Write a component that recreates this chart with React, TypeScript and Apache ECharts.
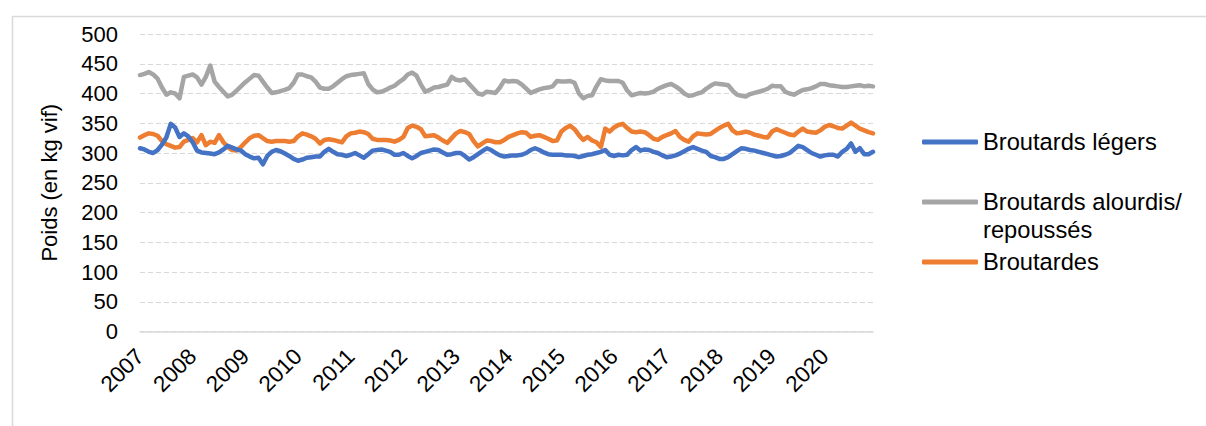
import React, { useEffect, useRef } from "react";
import * as echarts from "echarts";

const years = ["2007","2008","2009","2010","2011","2012","2013","2014","2015","2016","2017","2018","2019","2020"];
const months = ["01","02","03","04","05","06","07","08","09","10","11","12"];
const yTicks = [0, 50, 100, 150, 200, 250, 300, 350, 400, 450, 500];

const legers = [
  308, 306, 302, 300, 305, 314, 326, 349, 343, 327, 333, 328,
  318, 304, 301, 300, 299, 298, 301, 306, 312, 309, 306, 304,
  298, 294, 291, 292, 281, 295, 302, 305, 303, 299, 295, 290,
  287, 289, 292, 293, 294, 294, 302, 307, 302, 298, 297, 295,
  297, 300, 296, 292, 298, 304, 305, 306, 304, 302, 297, 297,
  300, 295, 291, 295, 300, 302, 304, 306, 305, 301, 297, 298,
  300, 300, 295, 289, 293, 298, 303, 308, 305, 300, 296, 294,
  295, 296, 296, 297, 300, 305, 308, 305, 301, 298, 297, 297,
  297, 296, 296, 295, 293, 295, 297, 298, 300, 302, 305, 297,
  295, 297, 296, 297, 305, 310, 304, 306, 305, 302, 300, 296,
  293, 294, 296, 299, 303, 307, 310, 307, 304, 302, 295, 293,
  290, 290, 293, 298, 303, 308, 307, 305, 304, 302, 300, 298,
  296, 294, 295, 297, 300, 306, 312, 310, 305, 300, 297, 294,
  296, 297, 297, 294, 302, 307, 316, 302, 308, 298, 298, 302,
];

const alourdis = [
  431, 433, 436, 432, 425, 410, 398, 402, 400, 392, 428, 430,
  432, 427, 415, 428, 447, 420, 411, 403, 395, 398, 405, 412,
  419, 425, 431, 430, 420, 410, 401, 402, 404, 406, 409, 418,
  432, 432, 429, 427, 420, 410, 408, 408, 412, 418, 424, 429,
  431, 432, 433, 434, 416, 407, 402, 403, 406, 410, 413, 419,
  424, 432, 435, 430, 415, 403, 406, 410, 411, 413, 415, 428,
  423, 422, 424, 416, 408, 400, 398, 403, 402, 401, 410, 422,
  420, 421, 420, 415, 408, 401, 404, 407, 409, 410, 412, 421,
  420, 420, 421, 418, 400, 392, 396, 397, 412, 424, 422, 421,
  421, 421, 418, 405, 397, 399, 401, 400, 401, 403, 408, 411,
  414, 416, 412, 407, 400, 396, 397, 400, 402, 408, 413, 417,
  416, 415, 414, 405, 398, 396, 395, 399, 401, 403, 405, 408,
  413, 412, 412, 403, 400, 398, 402, 406, 407, 409, 412, 416,
  416, 414, 413, 412, 411, 411, 412, 413, 414, 412, 413, 412,
];

const broutardes = [
  326, 330, 333, 332, 329, 320, 315, 312, 309, 310, 319, 322,
  325, 318, 330, 313, 319, 317, 330, 318, 310, 305, 304, 310,
  318, 325, 329, 330, 325, 320, 319, 320, 320, 320, 319, 320,
  328, 333, 331, 328, 324, 316, 322, 323, 322, 320, 318, 328,
  333, 334, 336, 335, 332, 324, 322, 322, 322, 321, 319, 322,
  327, 342, 346, 344, 340, 328, 329, 330, 326, 321, 317, 325,
  333, 337, 335, 332, 320, 311, 316, 321, 320, 318, 318, 322,
  327, 330, 333, 335, 334, 327, 329, 330, 327, 324, 320, 321,
  336, 342, 346, 340, 330, 322, 327, 321, 318, 310, 341, 336,
  343, 347, 349, 342, 336, 335, 336, 335, 330, 324, 322, 327,
  330, 333, 337, 327, 322, 319, 328, 333, 332, 331, 332, 337,
  342, 346, 349, 338, 333, 334, 336, 334, 331, 329, 327, 326,
  336, 340, 337, 334, 331, 330, 336, 341, 336, 335, 334, 338,
  344, 347, 345, 342, 341, 346, 351, 346, 341, 338, 335, 333,
];

const seriesNames = ["Broutards légers", "Broutards alourdis/ repoussés", "Broutardes"];
const colors = ["#4472C4", "#A5A5A5", "#ED7D31"];

const categories: string[] = [];
years.forEach((y) => months.forEach((m) => categories.push(`${y}-${m}`)));

const FONT = "Liberation Sans, Arial, sans-serif";

export default function App() {
  const ref = useRef<HTMLDivElement>(null);
  useEffect(() => {
    if (!ref.current) return;
    const chart = echarts.init(ref.current, null, { renderer: "svg" });
    const legendBase = {
      orient: "vertical" as const,
      left: 922,
      padding: 0,
      itemWidth: 56,
      itemHeight: 5,
      icon: "roundRect",
      textStyle: { fontFamily: FONT, fontSize: 23.7, color: "#000", lineHeight: 28 },
      selectedMode: false,
    };
    chart.setOption({
      animation: false,
      backgroundColor: "#fff",
      color: colors,
      textStyle: { fontFamily: FONT },
      grid: { left: 140, right: 333, top: 34, bottom: 94.5, containLabel: false },
      legend: [
        { ...legendBase, top: 128, data: [seriesNames[0]] },
        {
          ...legendBase,
          top: 160,
          data: [seriesNames[1]],
          formatter: () => " \nBroutards alourdis/\nrepoussés",
        },
        { ...legendBase, top: 248, data: [seriesNames[2]] },
      ],
      xAxis: {
        type: "category",
        data: categories,
        boundaryGap: false,
        axisLine: { show: true, lineStyle: { color: "#D9D9D9", width: 1.5 } },
        axisTick: { show: false },
        axisLabel: {
          interval: 11,
          rotate: 45,
          margin: 21,
          fontSize: 22.5,
          color: "#000",
          fontFamily: FONT,
          formatter: (v: string) => v.slice(0, 4),
        },
        splitLine: { show: false },
      },
      yAxis: {
        type: "value",
        min: yTicks[0],
        max: yTicks[yTicks.length - 1],
        interval: 50,
        name: "Poids (en kg vif)",
        nameLocation: "middle",
        nameGap: 80,
        nameTextStyle: { fontSize: 22, color: "#000", fontFamily: FONT },
        axisLine: { show: false },
        axisTick: { show: false },
        axisLabel: { fontSize: 22, color: "#000", margin: 22, fontFamily: FONT },
        splitLine: { show: true, lineStyle: { color: "#D9D9D9", width: 1, type: [5, 3] } },
      },
      series: [legers, alourdis, broutardes].map((d, i) => ({
        name: seriesNames[i],
        type: "line",
        data: d,
        showSymbol: false,
        symbol: "none",
        z: i === 0 ? 3 : 2,
        lineStyle: { width: 4.5, color: colors[i], cap: "round", join: "round" },
        itemStyle: { color: colors[i] },
      })),
      graphic: [
        {
          type: "rect",
          left: 10,
          top: 14,
          shape: { width: 1300, height: 500 },
          style: { fill: "none", stroke: "#D9D9D9", lineWidth: 1.5 },
          silent: true,
          z: -10,
        },
      ],
    });
    return () => chart.dispose();
  }, []);
  return (
    <div
      ref={ref}
      style={{ position: "absolute", left: 0, top: 0, width: 1206, height: 426 }}
    />
  );
}
